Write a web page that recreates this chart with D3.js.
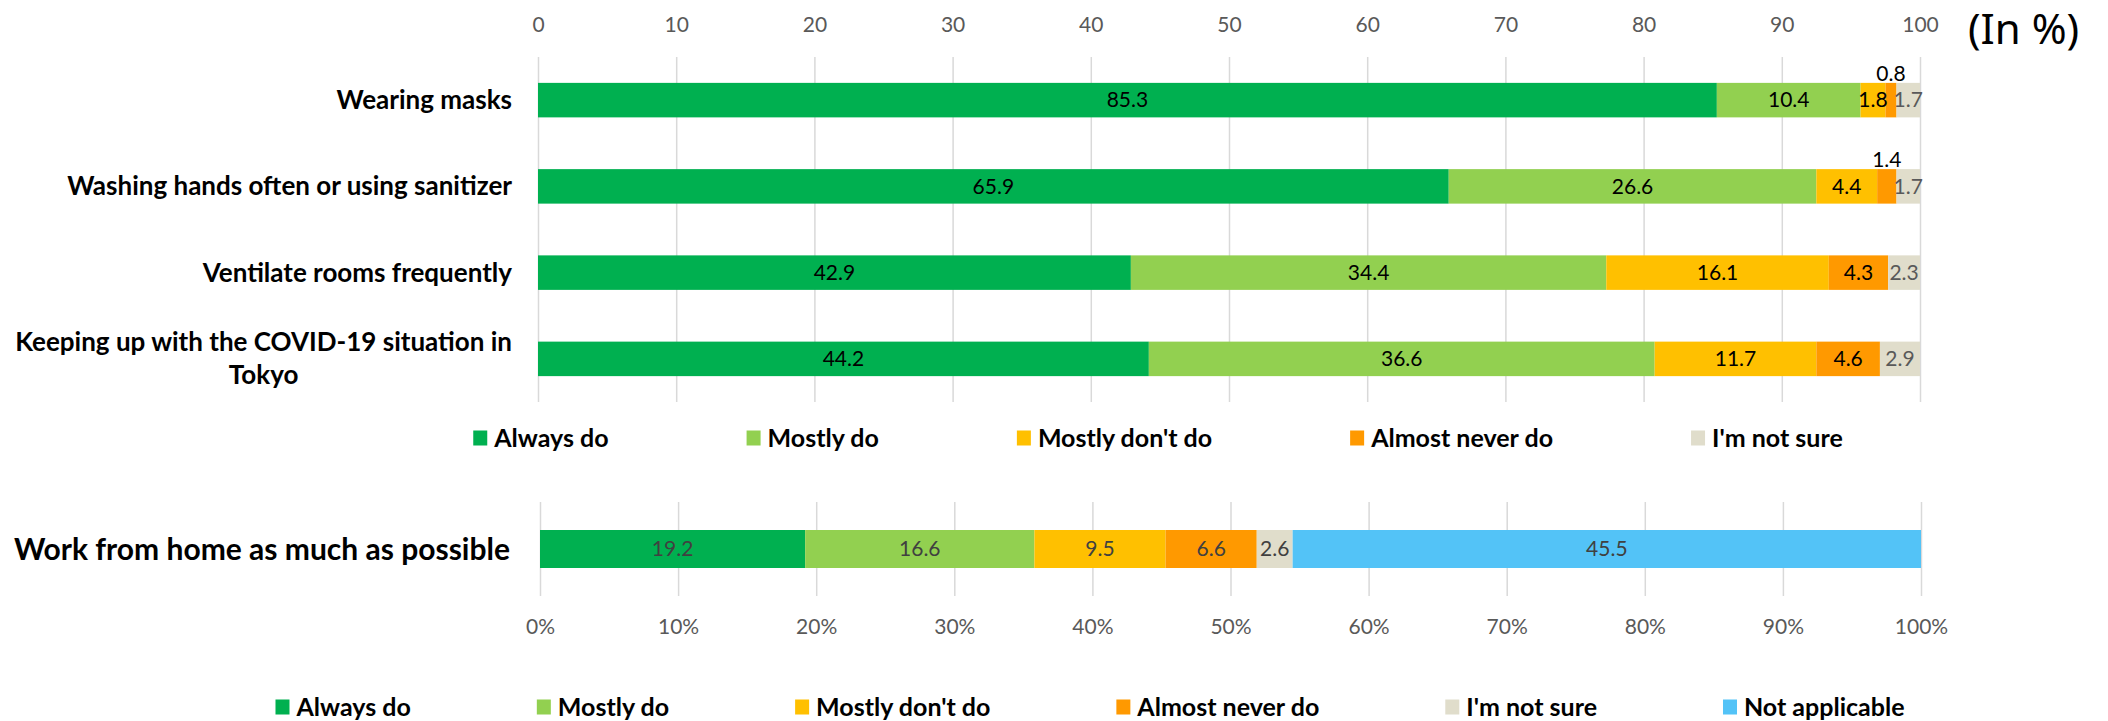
<!DOCTYPE html>
<html>
<head>
<meta charset="utf-8">
<script src="https://cdn.jsdelivr.net/npm/d3@7"></script>
<style>
  body { margin: 0; background: #fff; }
  svg { display: block; font-family: Lato, 'Open Sans', sans-serif; }
</style>
</head>
<body>
<svg id="chart" width="2108" height="721"></svg>
<script>
// top chart
const categories = [
  'Wearing masks',
  'Washing hands often or using sanitizer',
  'Ventilate rooms frequently',
  'Keeping up with the COVID-19 situation in Tokyo'
];
const seriesNames = ['Always do', 'Mostly do', "Mostly don't do", 'Almost never do', "I'm not sure"];
const alwaysDo = [85.3, 65.9, 42.9, 44.2];
const mostlyDo = [10.4, 26.6, 34.4, 36.6];
const mostlyDont = [1.8, 4.4, 16.1, 11.7];
const almostNever = [0.8, 1.4, 4.3, 4.6];
const notSure = [1.7, 1.7, 2.3, 2.9];
const topTicks = [0, 10, 20, 30, 40, 50, 60, 70, 80, 90, 100];

// bottom chart
const wfhCategory = 'Work from home as much as possible';
const wfhSeries = ['Always do', 'Mostly do', "Mostly don't do", 'Almost never do', "I'm not sure", 'Not applicable'];
const wfhValues = [19.2, 16.6, 9.5, 6.6, 2.6, 45.5];
const bottomTicks = [0, 10, 20, 30, 40, 50, 60, 70, 80, 90, 100];

const COLORS = {
  'Always do': '#00b050', 'Mostly do': '#92d050', "Mostly don't do": '#ffc000',
  'Almost never do': '#ff9900', "I'm not sure": '#e0ddcb', 'Not applicable': '#53c3f7'
};

const svg = d3.select('#chart');

// ---------- top chart ----------
const x = d3.scaleLinear().domain([0, 100]).range([538, 1920]);
const y = d3.scaleBand().domain(categories).range([57, 402]).paddingInner(0.6).paddingOuter(0.3);

svg.append('g').attr('transform', 'translate(0,402)')
  .call(d3.axisTop(x).tickValues(topTicks).tickSize(345).tickFormat(''))
  .call(a => a.select('.domain').remove())
  .call(a => a.selectAll('.tick line').attr('stroke', '#d9d9d9').attr('stroke-width', 1.5));

svg.append('g').attr('transform', 'translate(0,25)')
  .call(d3.axisTop(x).tickValues(topTicks).tickSize(0).tickPadding(0))
  .call(a => a.select('.domain').remove())
  .call(a => a.selectAll('text').attr('fill', '#595959').attr('font-size', 21)
    .attr('font-family', 'Lato, sans-serif').attr('dy', '0.35em'));

svg.append('text').attr('x', 1968).attr('y', 44).attr('font-size', 42)
  .attr('font-family', "'Noto Sans', sans-serif").attr('fill', '#000').text('(In %)');

const topSeries = [alwaysDo, mostlyDo, mostlyDont, almostNever, notSure];
const rows = categories.map((c, i) => {
  const r = { cat: c };
  seriesNames.forEach((s, k) => { r[s] = topSeries[k][i]; });
  return r;
});
const stacked = d3.stack().keys(seriesNames)(rows);

const layers = svg.append('g').selectAll('g').data(stacked).join('g')
  .attr('fill', d => COLORS[d.key]);
layers.selectAll('rect').data(d => d).join('rect')
  .attr('x', d => x(d[0])).attr('width', d => x(d[1]) - x(d[0]))
  .attr('y', d => y(d.data.cat)).attr('height', y.bandwidth());

stacked.forEach(layer => {
  layer.forEach(d => {
    const v = d[1] - d[0];
    const small = v < 1.5;
    svg.append('text')
      .attr('x', x((d[0] + d[1]) / 2))
      .attr('y', small ? y(d.data.cat) - 9 : y(d.data.cat) + y.bandwidth() / 2)
      .attr('dy', '0.35em').attr('text-anchor', 'middle')
      .attr('font-size', 21)
      .attr('fill', layer.key === "I'm not sure" && !small ? '#595959' : '#000')
      .text(v.toFixed(1));
  });
});

// category labels, wrapped when too long
const labelSize = 26;
categories.forEach(c => {
  const cy = y(c) + y.bandwidth() / 2;
  const t = svg.append('text').attr('font-size', labelSize).attr('font-weight', 'bold')
    .attr('fill', '#000').attr('text-anchor', 'end');
  const words = c.split(' ');
  let lines = [], line = [];
  words.forEach(w => {
    t.text([...line, w].join(' '));
    if (line.length && t.node().getComputedTextLength() > 500) { lines.push(line.join(' ')); line = [w]; }
    else line.push(w);
  });
  lines.push(line.join(' '));
  t.text(lines[0]);
  const w0 = t.node().getComputedTextLength();
  t.remove();
  const lh = 33;
  lines.forEach((ln, i) => {
    svg.append('text').attr('font-size', labelSize).attr('font-weight', 'bold').attr('fill', '#000')
      .attr('text-anchor', lines.length > 1 ? 'middle' : 'end')
      .attr('x', lines.length > 1 ? 512 - w0 / 2 : 512)
      .attr('y', cy + (i - (lines.length - 1) / 2) * lh).attr('dy', '0.35em')
      .text(ln);
  });
});

// ---------- legends ----------
function legend(names, cx, cy, gap) {
  const g = svg.append('g');
  let pos = 0;
  names.forEach(n => {
    g.append('rect').attr('x', pos).attr('y', cy - 7.5).attr('width', 14).attr('height', 15)
      .attr('fill', COLORS[n]);
    const t = g.append('text').attr('x', pos + 21).attr('y', cy).attr('dy', '0.35em')
      .attr('font-size', 25).attr('font-weight', 'bold').attr('fill', '#000').text(n);
    pos += 21 + t.node().getComputedTextLength() + gap;
  });
  const total = pos - gap;
  g.attr('transform', `translate(${cx - total / 2},0)`);
}
legend(seriesNames, 1158, 438, 138);

// ---------- bottom chart ----------
const x2 = d3.scaleLinear().domain([0, 100]).range([540, 1921]);

svg.append('g').attr('transform', 'translate(0,596)')
  .call(d3.axisTop(x2).tickValues(bottomTicks).tickSize(94).tickFormat(''))
  .call(a => a.select('.domain').remove())
  .call(a => a.selectAll('.tick line').attr('stroke', '#d9d9d9').attr('stroke-width', 1.5));

svg.append('g').attr('transform', 'translate(0,627)')
  .call(d3.axisBottom(x2).tickValues(bottomTicks).tickSize(0).tickPadding(0).tickFormat(d => d + '%'))
  .call(a => a.select('.domain').remove())
  .call(a => a.selectAll('text').attr('fill', '#595959').attr('font-size', 21)
    .attr('font-family', 'Lato, sans-serif').attr('dy', '0.35em'));

const wfhRow = { cat: wfhCategory };
wfhSeries.forEach((s, k) => { wfhRow[s] = wfhValues[k]; });
const wfhStack = d3.stack().keys(wfhSeries)([wfhRow]);
const barY = 530, barH = 38;

wfhStack.forEach(layer => {
  const d = layer[0];
  svg.append('rect').attr('x', x2(d[0])).attr('width', x2(d[1]) - x2(d[0]))
    .attr('y', barY).attr('height', barH).attr('fill', COLORS[layer.key]);
  svg.append('text').attr('x', x2((d[0] + d[1]) / 2)).attr('y', barY + barH / 2)
    .attr('dy', '0.35em').attr('text-anchor', 'middle').attr('font-size', 21)
    .attr('fill', '#404040').text((d[1] - d[0]).toFixed(1));
});

svg.append('text').attr('x', 510).attr('y', barY + barH / 2).attr('dy', '0.35em')
  .attr('text-anchor', 'end').attr('font-size', 30).attr('font-weight', 'bold')
  .attr('fill', '#000').text(wfhCategory);

legend(wfhSeries, 1090, 707, 126);
</script>
</body>
</html>
